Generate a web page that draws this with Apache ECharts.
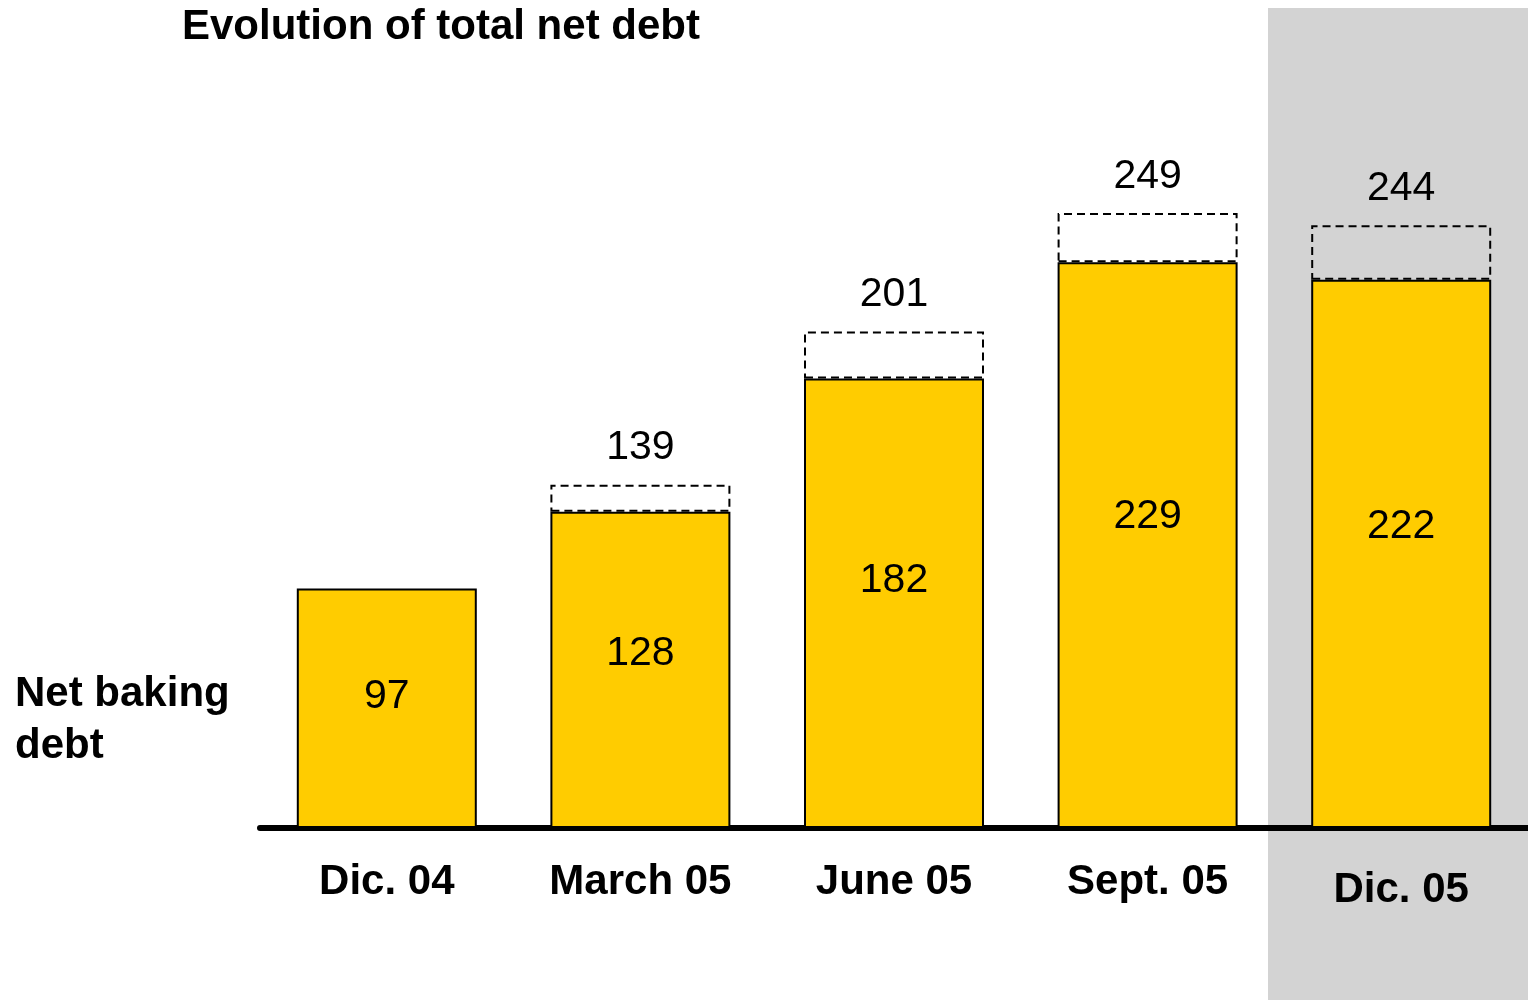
<!DOCTYPE html>
<html lang="en">
<head>
<meta charset="utf-8">
<title>Evolution of total net debt</title>
<script src="https://cdn.jsdelivr.net/npm/echarts@6/dist/echarts.min.js"></script>
<style type="text/css">
	html, body { margin: 0; padding: 0; background: #fff; }
	#chart { width: 1528px; height: 1000px; }
</style>
</head>
<body>
<div id="chart"></div>
<script type="text/javascript">
// categories
var periods = ['Dic. 04', 'March 05', 'June 05', 'Sept. 05', 'Dic. 05'];
// net baking debt (yellow bars)
var netBakingDebt = [97, 128, 182, 229, 222];
// total net debt (label above the dashed box)
var totalNetDebt = [97, 139, 201, 249, 244];

var font = 'Liberation Sans, Arial, sans-serif';

// dashed part = total - net baking debt, nothing drawn when equal
var rest = [];
for (var i = 0; i < periods.length; i++) {
	var d = totalNetDebt[i] - netBakingDebt[i];
	rest.push(d > 0 ? d : '-');
}

var catData = periods.map(function (p, i) {
	// last label sits a bit lower in the original
	if (i === periods.length - 1) {
		return { value: p, textStyle: { padding: [8, 0, 0, 0] } };
	}
	return p;
});

var myChart = echarts.init(document.getElementById('chart'));

var option = {
	animation: false,
	title: {
		text: 'Evolution of total net debt',
		left: 177,
		top: 1,
		textStyle: { fontFamily: font, fontSize: 42, fontWeight: 'bold', color: '#000' }
	},
	graphic: [
		{
			type: 'rect',
			z: -10,
			shape: { x: 1268, y: 8, width: 260, height: 992 },
			style: { fill: '#d3d3d3' }
		},
		{
			type: 'text',
			left: 15,
			top: 668,
			style: {
				text: 'Net baking\ndebt',
				font: 'bold 42px ' + font,
				lineHeight: 52,
				fill: '#000'
			}
		}
	],
	grid: { left: 260, right: 0, top: 87, bottom: 172 },
	xAxis: {
		type: 'category',
		data: catData,
		axisLine: { lineStyle: { color: '#000', width: 6, cap: 'round' } },
		axisTick: { show: false },
		axisLabel: {
			margin: 33,
			fontFamily: font,
			fontSize: 42,
			fontWeight: 'bold',
			color: '#000'
		}
	},
	yAxis: {
		type: 'value',
		min: 0,
		max: 300,
		show: false,
		splitLine: { show: false }
	},
	series: [
		{
			name: 'Net baking debt',
			type: 'bar',
			stack: 'debt',
			barWidth: 180,
			data: netBakingDebt,
			itemStyle: { color: '#ffcc00', borderColor: '#000', borderWidth: 2 },
			label: {
				show: true,
				position: ['50%', '45%'],
				align: 'center',
				verticalAlign: 'middle',
				fontFamily: font,
				fontSize: 41,
				color: '#000'
			}
		},
		{
			name: 'Total net debt',
			type: 'bar',
			stack: 'debt',
			barWidth: 180,
			data: rest,
			itemStyle: {
				color: 'rgba(0,0,0,0)',
				borderColor: '#000',
				borderWidth: 2,
				borderType: [8, 5]
			},
			label: {
				show: true,
				position: 'top',
				distance: 16,
				fontFamily: font,
				fontSize: 41,
				color: '#000',
				formatter: function (p) {
					return totalNetDebt[p.dataIndex];
				}
			}
		}
	]
};

myChart.setOption(option);
</script>
</body>
</html>
